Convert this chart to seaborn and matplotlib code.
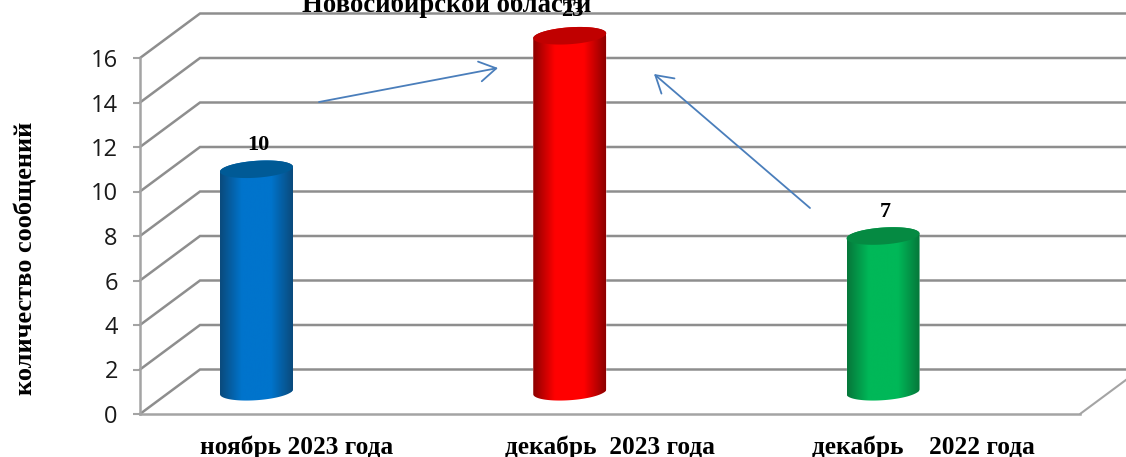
import numpy as np
import pandas as pd
import matplotlib
matplotlib.use("Agg")
import matplotlib.pyplot as plt
import seaborn as sns
from matplotlib.colors import LinearSegmentedColormap
from matplotlib.patches import Polygon

# данные
periods = ["ноябрь 2023 года", "декабрь  2023 года", "декабрь    2022 года"]
messages = [10, 23, 7]
y_ticks = [0, 2, 4, 6, 8, 10, 12, 14, 16]
axis_max = 16
title_text = "Новосибирской области"
y_title = "количество сообщений"

# цвета цилиндров: край, центр, верхняя крышка
bar_edges = ["#0a4a7c", "#8c0000", "#06763a"]
bar_centers = ["#0074cc", "#ff0000", "#00b858"]
bar_caps = ["#005a96", "#c00000", "#058a42"]

W, H = 1126, 457
GRID = "#8e8e8e"
AXIS = "#a4a4a4"
BLUE = "#4a7ebb"

sns.set_theme(style="white")
plt.rcParams["font.family"] = ["Open Sans", "DejaVu Sans"]
SERIF = ["Liberation Serif", "DejaVu Serif"]

fig = plt.figure(figsize=(W / 100, H / 100), dpi=100)
ax = fig.add_axes([0, 0, 1, 1])
ax.patch.set_alpha(0)

df = pd.DataFrame({"period": periods, "value": messages})
df["drawn"] = df["value"].clip(upper=axis_max)  # 23 не помещается в ось

bar_width = 0.233
sns.barplot(data=df, x="period", y="drawn", hue="period", palette=bar_centers,
            width=bar_width, saturation=1, legend=False, ax=ax, zorder=3)

# пересчет пикселей в координаты данных
step_x = 313.25
unit_y = 22.25
xlim = (-256.5 / step_x, (W - 256.5) / step_x)
ylim = ((414 - H) / unit_y, 414 / unit_y)
x_front = (140 - 256.5) / step_x
x_right = (1080 - 256.5) / step_x
depth_x = 60 / step_x
depth_y = 2
base = 1.0


def rim(cx, cy, t):
    # эллипс с небольшим наклоном
    a = bar_width / 2
    return np.column_stack([cx + a * np.cos(t), cy + 0.38 * np.sin(t) + 0.11 * np.cos(t)])


# стены и сетка
for v in y_ticks:
    ax.plot([x_front, x_front + depth_x, x_right + depth_x], [v, v + depth_y, v + depth_y],
            color=GRID, lw=1.8, zorder=1, solid_joinstyle="miter")
ax.plot([x_right, x_right + depth_x], [0, depth_y], color=AXIS, lw=1.5, zorder=1)

# цилиндры поверх столбцов
for i, p in enumerate(ax.patches):
    cx = p.get_x() + p.get_width() / 2
    top = base + p.get_height()
    p.set_y(base)
    t_low = np.linspace(np.pi, 2 * np.pi, 60)
    t_top = np.linspace(0, np.pi, 60)
    body = Polygon(np.vstack([rim(cx, base, t_low), rim(cx, top, t_top)]), closed=True,
                   transform=ax.transData, fc="none", ec="none")
    ax.add_patch(body)
    p.set_clip_path(body)
    cmap = LinearSegmentedColormap.from_list(
        "cyl", [(0, bar_edges[i]), (0.3, bar_centers[i]), (0.7, bar_centers[i]), (1, bar_edges[i])])
    grad = np.linspace(0, 1, 256).reshape(1, -1)
    img = ax.imshow(grad, cmap=cmap, aspect="auto", zorder=3.5,
                    extent=[cx - bar_width / 2, cx + bar_width / 2, base - 1, top + 1])
    img.set_clip_path(body)
    cap = Polygon(rim(cx, top, np.linspace(0, 2 * np.pi, 90)), closed=True,
                  fc=bar_caps[i], ec="none", zorder=4)
    ax.add_patch(cap)
    ax.annotate(str(df["value"][i]), (cx, top), xytext=(1.5, 17.5), textcoords="offset points",
                ha="center", va="center", family=SERIF, weight="bold", fontsize=16,
                color="black", zorder=6)

# оси
for side in ["top", "right"]:
    ax.spines[side].set_visible(False)
ax.spines["left"].set_position(("data", x_front))
ax.spines["left"].set_bounds(0, axis_max)
ax.spines["bottom"].set_position(("data", 0))
ax.spines["bottom"].set_bounds(x_front, x_right)
for side in ["left", "bottom"]:
    ax.spines[side].set_color(AXIS)
    ax.spines[side].set_linewidth(1.8)
    ax.spines[side].set_zorder(2)

ax.set_yticks(y_ticks)
ax.tick_params(axis="y", left=True, length=5, width=1.5, color=AXIS, pad=11, labelsize=17,
               labelcolor="#1a1a1a")
# подписи по центрам третей пола
ax.set_xticks(np.arange(len(periods)) + 40 / step_x, periods)
ax.tick_params(axis="x", bottom=False, length=0, pad=15.5)
for lab in ax.get_xticklabels():
    lab.set_family(SERIF)
    lab.set_weight("bold")
    lab.set_fontsize(18.3)
    lab.set_color("black")
ax.set_xlabel("")
ax.set_ylabel(y_title, family=SERIF, weight="bold", fontsize=19, color="black", va="center")
ax.yaxis.set_label_coords(26 / W, 1 - 258 / H)

ax.text(447 / W, 1 - 12 / H, title_text, transform=ax.transAxes, ha="center", va="baseline",
        family=SERIF, weight="bold", fontsize=19.2, color="black", zorder=5)


# стрелки
def frac(px, py):
    return (px / W, 1 - py / H)


arrow = dict(arrowstyle="->,head_length=1.0,head_width=0.6", color=BLUE, lw=1.3, shrinkA=0, shrinkB=0)
ax.annotate("", xy=frac(498, 68), xytext=frac(319, 102), xycoords="axes fraction",
            textcoords="axes fraction", arrowprops=arrow, zorder=5)
ax.annotate("", xy=frac(654, 74), xytext=frac(810, 208), xycoords="axes fraction",
            textcoords="axes fraction", arrowprops=arrow, zorder=5)

ax.set_xlim(xlim)
ax.set_ylim(ylim)

fig.savefig("out.png", dpi=100)
